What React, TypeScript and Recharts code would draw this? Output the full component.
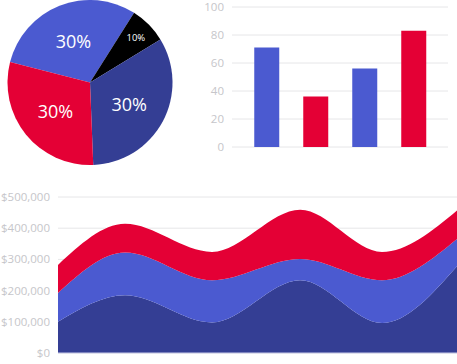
import React from 'react';
import {
  PieChart, Pie, Cell, BarChart, Bar, AreaChart, Area,
  XAxis, YAxis, CartesianGrid, ReferenceLine,
} from 'recharts';

// pie (clockwise from the red/blue boundary on the left)
const pieNames = ['A', 'B', 'C', 'D'];
const pieValues = [30, 7.3, 33.1, 29.6];
const pieLabels = ['30%', '10%', '30%', '30%'];

// bars
const barCategories = ['Q1', 'Q2', 'Q3', 'Q4'];
const barValues = [71, 36, 56, 83];
const barTicks = [0, 20, 40, 60, 80, 100];

// stacked areas (x position in % of width)
const areaX = [0, 16.8, 38.6, 60.7, 81.2, 100];
const areaBottom = [100000, 185000, 98000, 233000, 96000, 278000];
const areaMiddle = [92000, 137000, 135000, 68000, 137000, 87000];
const areaTop = [90000, 92000, 91000, 158000, 91000, 92000];
const areaTicks = [0, 100000, 200000, 300000, 400000, 500000];

const LIGHT = '#4b5ad0';
const DARK = '#343e94';
const RED = '#e40035';
const GRID = '#e6e6e8';
const TICK = { fill: '#c6c6ca', fontSize: 11.5 };
const FONT = '"Open Sans", sans-serif';

const pieColors = [LIGHT, '#000000', DARK, RED];
const barColors = [LIGHT, RED, LIGHT, RED];

const pieData = pieNames.map((name, i) => ({ name, value: pieValues[i], label: pieLabels[i] }));
const barData = barCategories.map((name, i) => ({ name, value: barValues[i] }));
const areaData = areaX.map((x, i) => ({
  x, bottom: areaBottom[i], middle: areaMiddle[i], top: areaTop[i],
}));

const RAD = Math.PI / 180;

const renderPieLabel = (props: any) => {
  const { cx, cy, midAngle, outerRadius, index } = props;
  const small = pieValues[index] < 10;
  const r = outerRadius * (small ? 0.78 : 0.54);
  const x = cx + r * Math.cos(-midAngle * RAD);
  const y = cy + r * Math.sin(-midAngle * RAD);
  return (
    <text x={x} y={y} fill="#fff" textAnchor="middle" dominantBaseline="central"
      fontSize={small ? 9.5 : 18} fontFamily={FONT}>
      {pieLabels[index]}
    </text>
  );
};

const money = (v: number) => `$${v.toLocaleString('en-US')}`;

export default function App() {
  return (
    <div style={{ position: 'absolute', left: 0, top: 0, width: 457, height: 364, background: '#fff', fontFamily: FONT }}>
      <div style={{ position: 'absolute', left: 0, top: 0 }}>
        <PieChart width={180} height={170} margin={{ top: 0, right: 0, bottom: 0, left: 0 }}>
          <Pie
            data={pieData}
            dataKey="value"
            cx={90}
            cy={82.5}
            outerRadius={82.5}
            startAngle={165.7}
            endAngle={-194.3}
            stroke="none"
            labelLine={false}
            label={renderPieLabel}
            isAnimationActive={false}
          >
            {pieData.map((d, i) => <Cell key={d.name} fill={pieColors[i]} />)}
          </Pie>
        </PieChart>
      </div>

      <div style={{ position: 'absolute', left: 180, top: 0 }}>
        <BarChart width={277} height={160} data={barData} barCategoryGap="25%"
          margin={{ top: 7, right: 9, bottom: 13, left: 0 }}>
          <CartesianGrid vertical={false} stroke={GRID} />
          <XAxis dataKey="name" hide padding={{ left: 10, right: 10 }} />
          <YAxis width={52} domain={[0, 100]} ticks={barTicks} axisLine={false} tickLine={false}
            tick={{ ...TICK, fontFamily: FONT }} />
          <Bar dataKey="value" isAnimationActive={false}>
            {barData.map((d, i) => <Cell key={d.name} fill={barColors[i]} />)}
          </Bar>
        </BarChart>
      </div>

      <div style={{ position: 'absolute', left: 0, top: 187 }}>
        <AreaChart width={457} height={177} data={areaData}
          margin={{ top: 10, right: 0, bottom: 11, left: 0 }}>
          <CartesianGrid vertical={false} stroke={GRID} />
          <XAxis type="number" dataKey="x" domain={[0, 100]} hide />
          <YAxis width={58} domain={[0, 500000]} ticks={areaTicks} tickFormatter={money}
            axisLine={false} tickLine={false} tick={{ ...TICK, fontFamily: FONT }} />
          <Area type="monotone" dataKey="bottom" stackId="s" stroke="none" fill={DARK} fillOpacity={1} isAnimationActive={false} />
          <Area type="monotone" dataKey="middle" stackId="s" stroke="none" fill={LIGHT} fillOpacity={1} isAnimationActive={false} />
          <Area type="monotone" dataKey="top" stackId="s" stroke="none" fill={RED} fillOpacity={1} isAnimationActive={false} />
          <ReferenceLine y={0} stroke="#c9cbe8" strokeWidth={1} />
        </AreaChart>
      </div>
    </div>
  );
}
